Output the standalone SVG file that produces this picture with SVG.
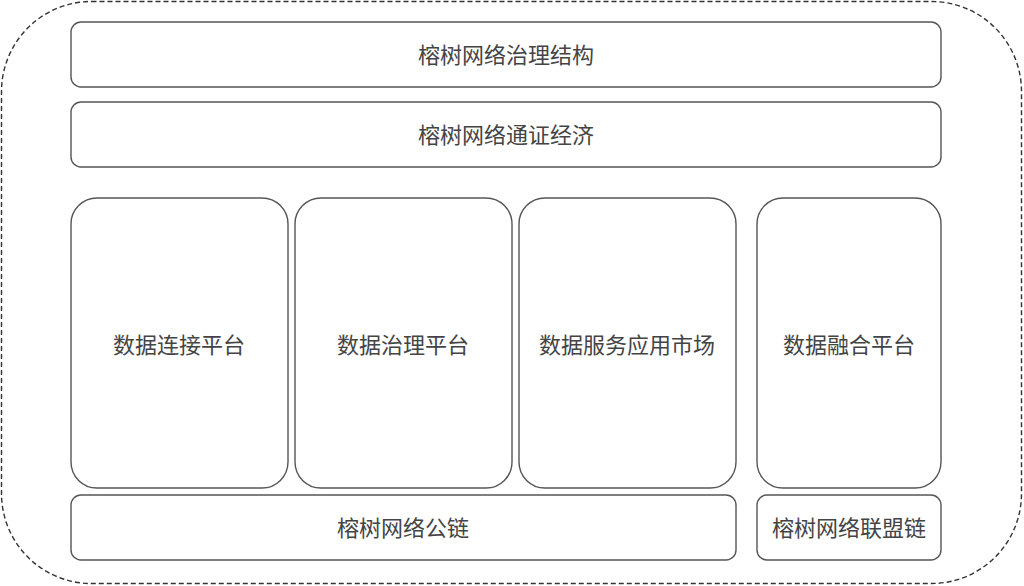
<svg xmlns="http://www.w3.org/2000/svg" width="1024" height="586" viewBox="0 0 1024 586">
<style>
.box{fill:#fff;stroke:#555;stroke-width:1.4}
.lbl{font-family:"Noto Sans CJK SC","Noto Sans",sans-serif;font-size:22px;fill:#444;text-anchor:middle;dominant-baseline:central}
</style>
<rect x="0" y="0" width="1024" height="586" fill="#fff"/>
<g id="frame">
<rect x="1.5" y="1.5" width="1020" height="582" rx="90" ry="90" fill="none" stroke="#333" stroke-width="1.4" stroke-dasharray="5,3"/>
</g>
<g id="governance"><rect class="box" x="71" y="22" width="870" height="65" rx="10"/><text class="lbl" x="506" y="53">榕树网络治理结构</text></g>
<g id="token-economy"><rect class="box" x="71" y="102" width="870" height="65" rx="10"/><text class="lbl" x="506" y="133">榕树网络通证经济</text></g>
<g id="data-connect"><rect class="box" x="71" y="198" width="217" height="290" rx="26"/><text class="lbl" x="179" y="343">数据连接平台</text></g>
<g id="data-govern"><rect class="box" x="295" y="198" width="217" height="290" rx="26"/><text class="lbl" x="403" y="343">数据治理平台</text></g>
<g id="data-market"><rect class="box" x="519" y="198" width="217" height="290" rx="26"/><text class="lbl" x="627" y="343">数据服务应用市场</text></g>
<g id="data-fusion"><rect class="box" x="757" y="198" width="184" height="290" rx="26"/><text class="lbl" x="849" y="343">数据融合平台</text></g>
<g id="public-chain"><rect class="box" x="71" y="495" width="665" height="65" rx="10"/><text class="lbl" x="403" y="526">榕树网络公链</text></g>
<g id="alliance-chain"><rect class="box" x="757" y="495" width="184" height="65" rx="10"/><text class="lbl" x="849" y="526">榕树网络联盟链</text></g>
<g id="connectors"></g>
</svg>
